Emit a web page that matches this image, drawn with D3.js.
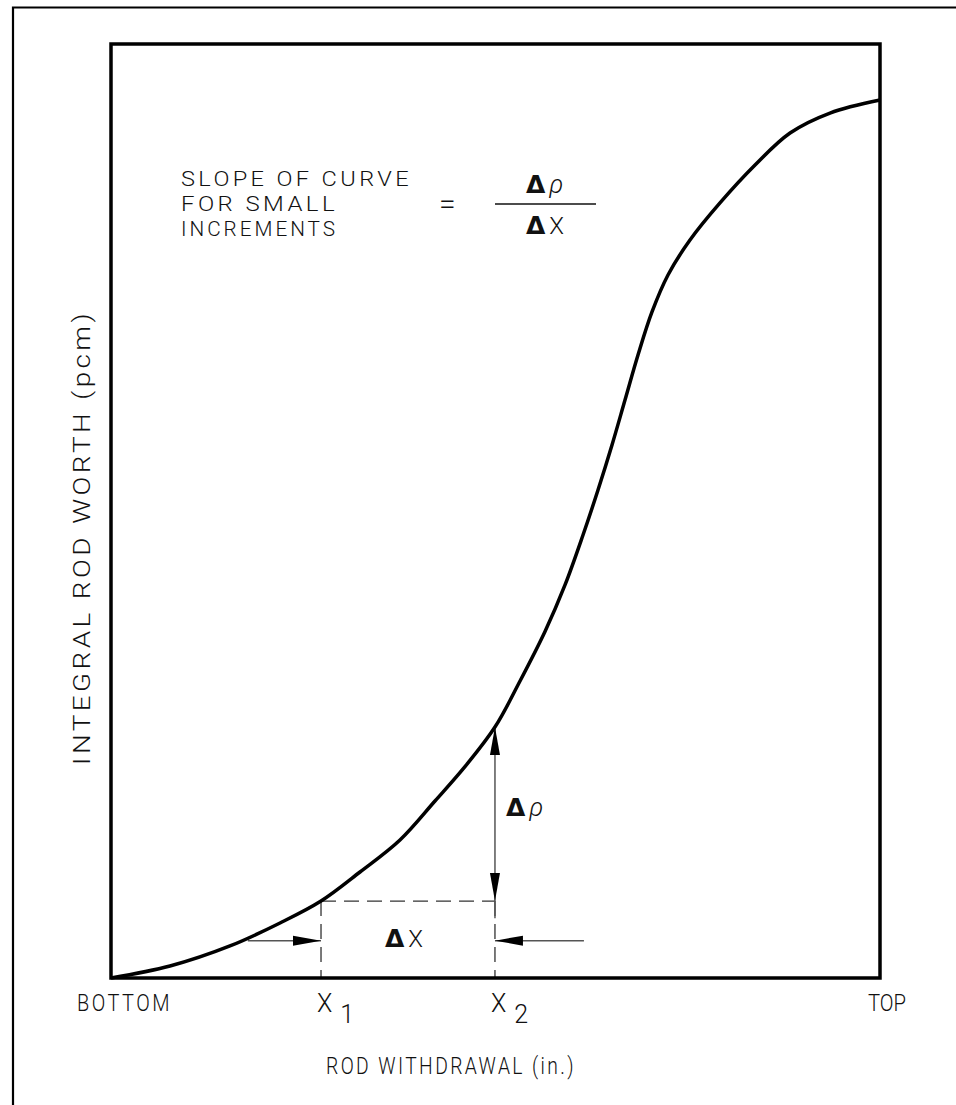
<!DOCTYPE html>
<html>
<head>
<meta charset="utf-8">
<script src="https://cdn.jsdelivr.net/npm/d3@7"></script>
<style>
  html, body { margin: 0; padding: 0; background: #fff; }
  svg { display: block; }
  text { font-family: Roboto, "DejaVu Sans", sans-serif; font-weight: 300; fill: #111; }
</style>
</head>
<body>
<svg id="chart" width="956" height="1105"></svg>
<script>
// Curve: rod withdrawal (0 = bottom, 100 = top) vs integral rod worth (relative units)
const withdrawal = [0, 7.67, 15.47, 21.98, 27.31, 32.38, 37.58, 42.13, 46.0, 49.93, 53.19, 56.44, 59.04, 61.38, 63.33, 65.15, 66.84, 68.53, 70.35, 72.43, 75.29, 79.19, 83.75, 88.30, 93.50, 100];
const worth      = [0, 1.28, 3.43, 5.89, 8.24, 11.35, 14.78, 18.95, 22.60, 26.87, 31.80, 37.10, 42.08, 47.43, 52.25, 57.07, 61.88, 66.70, 71.31, 75.27, 79.01, 82.98, 87.04, 90.47, 92.61, 94.00];
const xTickLabels = ["BOTTOM", "TOP"];
const x1Val = 27.31, x2Val = 49.93;    // increment positions
const rho1 = 8.24, rho2 = 26.87;       // worth at x1, x2
const arrowLevel = 4.0;                // level of the ΔX arrows
const leftArrowStart = 17.8, rightArrowStart = 61.5;
const rhoLineEnd = 6.4;

const svg = d3.select("#chart");
const pLeft = 111, pRight = 880, pTop = 44, pBottom = 978;

const x = d3.scaleLinear().domain([0, 100]).range([pLeft, pRight]);
const y = d3.scaleLinear().domain([0, 100]).range([pBottom, pTop]);

// outer border (cut off at right and bottom)
svg.append("path")
  .attr("d", "M13,1105 L13,7.5 L956,7.5")
  .attr("fill", "none").attr("stroke", "#000").attr("stroke-width", 2.2);

// dashed construction lines
const dash = "15,8";
svg.append("line")
  .attr("x1", x(x1Val)).attr("x2", x(x2Val)).attr("y1", y(rho1)).attr("y2", y(rho1))
  .attr("stroke", "#333").attr("stroke-width", 1.3).attr("stroke-dasharray", dash);
[x1Val, x2Val].forEach(v => {
  svg.append("line")
    .attr("x1", x(v)).attr("x2", x(v)).attr("y1", y(rho1)).attr("y2", y(0))
    .attr("stroke", "#333").attr("stroke-width", 1.3).attr("stroke-dasharray", dash);
});

// arrow helper
function arrowHead(tipX, tipY, dir) {
  const L = 28, W = 5;
  let pts;
  if (dir === "up") pts = [[tipX, tipY], [tipX - W, tipY + L], [tipX + W, tipY + L]];
  if (dir === "down") pts = [[tipX, tipY], [tipX - W, tipY - L], [tipX + W, tipY - L]];
  if (dir === "right") pts = [[tipX, tipY], [tipX - L, tipY - W], [tipX - L, tipY + W]];
  if (dir === "left") pts = [[tipX, tipY], [tipX + L, tipY - W], [tipX + L, tipY + W]];
  svg.append("path").attr("d", "M" + pts.map(p => p.join(",")).join("L") + "Z").attr("fill", "#000");
}

// Δρ vertical
svg.append("line")
  .attr("x1", x(x2Val)).attr("x2", x(x2Val)).attr("y1", y(rho2)).attr("y2", y(rhoLineEnd))
  .attr("stroke", "#555").attr("stroke-width", 1.5);
arrowHead(x(x2Val), y(rho2), "up");
arrowHead(x(x2Val), y(rho1), "down");

// ΔX horizontal arrows
svg.append("line")
  .attr("x1", x(leftArrowStart)).attr("x2", x(x1Val)).attr("y1", y(arrowLevel)).attr("y2", y(arrowLevel))
  .attr("stroke", "#555").attr("stroke-width", 1.5);
svg.append("line")
  .attr("x1", x(rightArrowStart)).attr("x2", x(x2Val)).attr("y1", y(arrowLevel)).attr("y2", y(arrowLevel))
  .attr("stroke", "#555").attr("stroke-width", 1.5);
arrowHead(x(x1Val), y(arrowLevel), "right");
arrowHead(x(x2Val), y(arrowLevel), "left");

// curve
const pts = withdrawal.map((w, i) => [w, worth[i]]);
svg.append("path")
  .datum(pts)
  .attr("d", d3.line().x(d => x(d[0])).y(d => y(d[1])).curve(d3.curveCatmullRom.alpha(0.5)))
  .attr("fill", "none").attr("stroke", "#000").attr("stroke-width", 3.5).attr("stroke-linejoin", "round");

// plot frame
svg.append("rect")
  .attr("x", pLeft).attr("y", pTop).attr("width", pRight - pLeft).attr("height", pBottom - pTop)
  .attr("fill", "none").attr("stroke", "#000").attr("stroke-width", 3.5);

// text helper: narrow CAD-like lettering squeezed to a measured width
function txt(s, px, py, len, size = 24) {
  return svg.append("text").attr("x", px).attr("y", py).attr("font-size", size)
    .attr("letter-spacing", 3)
    .attr("textLength", len).attr("lengthAdjust", "spacingAndGlyphs").text(s);
}

// formula block
txt("SLOPE OF CURVE", 181, 186, 231, 21);
txt("FOR SMALL", 181, 211, 157, 21);
txt("INCREMENTS", 181, 236, 157, 21);
svg.append("text").attr("x", 439).attr("y", 214).attr("font-size", 30).text("=");
svg.append("line").attr("x1", 495).attr("x2", 596).attr("y1", 204).attr("y2", 204)
  .attr("stroke", "#111").attr("stroke-width", 1.3);

function deltaLabel(px, py, sym, italic) {
  const t = svg.append("text").attr("x", px).attr("y", py).attr("font-size", 24);
  t.append("tspan").text("Δ").attr("font-weight", "bold")
    .style("font-family", "'DejaVu Sans', sans-serif").attr("font-size", 25);
  const s = t.append("tspan").text(sym).attr("dx", 4);
  if (italic) s.attr("font-style", "italic").attr("font-size", 26);
  return t;
}
deltaLabel(526, 193, "ρ", true);
deltaLabel(526, 234, "X", false);
deltaLabel(506, 816, "ρ", true);
deltaLabel(385, 947, "X", false);

// axis labels
txt(xTickLabels[0], 77, 1011, 95);
svg.append("text").attr("x", 868).attr("y", 1011).attr("font-size", 24)
  .attr("textLength", 38).attr("lengthAdjust", "spacingAndGlyphs").text(xTickLabels[1]);

function subLabel(v, sub) {
  const t = svg.append("text").attr("x", x(v) - 4).attr("y", 1012).attr("font-size", 25);
  t.append("tspan").text("X");
  t.append("tspan").text(sub).attr("dx", 8).attr("dy", 11).attr("font-size", 25);
}
subLabel(x1Val, "1");
subLabel(x2Val, "2");

txt("ROD WITHDRAWAL (in.)", 326, 1074, 250);

svg.append("text")
  .attr("transform", "translate(90,765) rotate(-90)")
  .attr("font-size", 24).attr("letter-spacing", 3)
  .attr("textLength", 455).attr("lengthAdjust", "spacingAndGlyphs")
  .text("INTEGRAL ROD WORTH (pcm)");
</script>
</body>
</html>
